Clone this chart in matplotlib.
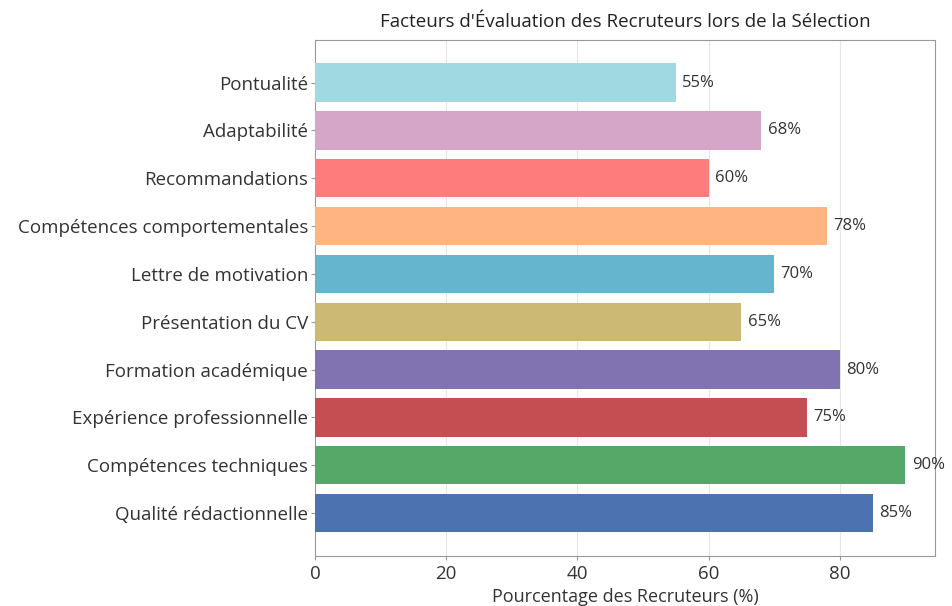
import matplotlib.pyplot as plt

facteurs = [
    "Qualité rédactionnelle",
    "Compétences techniques",
    "Expérience professionnelle",
    "Formation académique",
    "Présentation du CV",
    "Lettre de motivation",
    "Compétences comportementales",
    "Recommandations",
    "Adaptabilité",
    "Pontualité",
]
pourcentages = [85, 90, 75, 80, 65, 70, 78, 60, 68, 55]
couleurs = ["#4C72B0", "#55A868", "#C44E52", "#8172B2", "#CCB974",
            "#64B5CD", "#FFB482", "#FF7C7C", "#D5A6C8", "#A1D9E3"]


def main():
    plt.rcParams['font.family'] = ['Open Sans', 'DejaVu Sans']
    fig = plt.figure(figsize=(9.52, 6.06), dpi=100)
    ax = fig.add_axes([0.331, 0.083, 0.651, 0.851])

    bars = ax.barh(facteurs, pourcentages, color=couleurs, height=0.8, zorder=3)
    for bar, val in zip(bars, pourcentages):
        ax.text(bar.get_width() + 1, bar.get_y() + bar.get_height() / 2, f"{val}%",
                va='center', ha='left', fontsize=12, color='#333333', zorder=4)

    ax.set_xlim(0, 94.5)
    ax.set_xticks([0, 20, 40, 60, 80])
    ax.grid(axis='x', color='#e6e6e6', linestyle='-', linewidth=0.8, zorder=0)
    ax.tick_params(axis='both', labelsize=13.5, colors='#333333', length=3)
    ax.tick_params(axis='y', color='#999999', pad=2)
    ax.tick_params(axis='x', color='#999999')
    for s in ax.spines.values():
        s.set_color('#999999')

    ax.set_xlabel("Pourcentage des Recruteurs (%)", fontsize=13, color='#333333', labelpad=4)
    ax.set_title("Facteurs d'Évaluation des Recruteurs lors de la Sélection",
                 fontsize=13.5, color='#222222', pad=9)

    fig.savefig("out.png", dpi=100)


if __name__ == '__main__':
    main()
